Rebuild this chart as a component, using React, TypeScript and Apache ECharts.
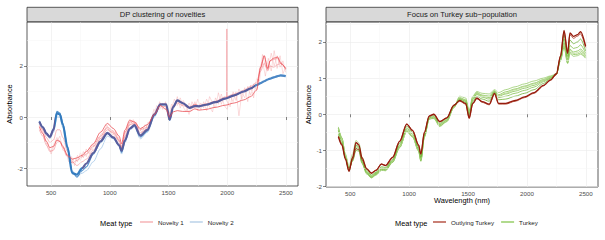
import React, { useEffect, useRef } from "react";
import * as echarts from "echarts";

// Wavelength grid (nm) for smooth spectra
const WAVELENGTH = [400, 430, 460, 490, 520, 550, 575, 600, 640, 680, 720, 765, 800, 860, 920, 980, 1030, 1080, 1100, 1130, 1170, 1210, 1260, 1320, 1380, 1430, 1480, 1510, 1540, 1575, 1620, 1680, 1725, 1760, 1820, 1900, 1980, 2060, 2140, 2200, 2250, 2285, 2315, 2345, 2365, 2395, 2430, 2455, 2498];

// Wavelength grid for noisy spectra
const NOISY_WAVELENGTH = [400, 425, 450, 475, 500, 525, 550, 575, 600, 625, 650, 675, 700, 725, 750, 775, 800, 825, 850, 875, 900, 925, 950, 975, 1000, 1025, 1050, 1075, 1100, 1125, 1150, 1175, 1200, 1225, 1250, 1275, 1300, 1325, 1350, 1375, 1400, 1425, 1450, 1475, 1500, 1525, 1550, 1575, 1600, 1625, 1650, 1675, 1700, 1725, 1750, 1775, 1800, 1825, 1850, 1875, 1900, 1925, 1950, 1975, 2000, 2025, 2050, 2075, 2100, 2125, 2150, 2175, 2200, 2225, 2250, 2275, 2300, 2325, 2350, 2375, 2400, 2425, 2450, 2475, 2498];

// ---- Left panel: DP clustering of novelties ----
const NOVELTY1_A = [-0.38, -0.65, -0.95, -1.2, -1.15, -0.9, -0.95, -1.15, -1.5, -1.65, -1.6, -1.5, -1.35, -1.05, -0.6, -0.25, -0.45, -0.75, -1.05, -0.5, -0.12, -0.2, -0.45, -0.3, 0.1, 0.45, 0.3, 0.0, 0.2, 0.25, 0.22, 0.22, 0.32, 0.27, 0.3, 0.38, 0.46, 0.55, 0.67, 0.8, 1.05, 1.95, 2.4, 1.9, 2.2, 2.3, 2.35, 2.1, 1.9];
const NOVELTY1_B = [-0.3, -0.5, -0.8, -1.0, -0.9, -0.5, -0.5, -0.8, -1.35, -1.75, -1.9, -1.75, -1.65, -1.3, -0.85, -0.5, -0.62, -0.95, -1.2, -0.75, -0.3, -0.25, -0.62, -0.45, 0.15, 0.5, 0.48, 0.0, 0.42, 0.62, 0.5, 0.4, 0.5, 0.45, 0.52, 0.62, 0.78, 0.9, 1.05, 1.2, 1.35, 1.8, 2.1, 1.8, 2.0, 1.95, 2.05, 2.1, 1.9];
const NOVELTY1_C = [-0.5, -0.75, -1.1, -1.35, -1.3, -1.0, -0.95, -1.2, -1.55, -1.8, -1.7, -1.55, -1.45, -1.15, -0.75, -0.4, -0.55, -0.9, -1.15, -0.6, -0.2, -0.18, -0.5, -0.4, 0.1, 0.45, 0.4, 0.0, 0.4, 0.55, 0.45, 0.35, 0.5, 0.42, 0.5, 0.6, 0.72, 0.85, 1.0, 1.1, 1.3, 1.9, 2.4, 1.85, 2.2, 2.25, 2.3, 2.15, 1.85];
const NOVELTY1_NOISY_A = [-0.35, -0.55, -0.9, -1.2, -1.35, -1.05, -0.8, -1.0, -1.1, -1.5, -1.45, -1.8, -1.6, -1.75, -1.4, -1.6, -1.25, -1.45, -1.1, -1.15, -0.8, -0.85, -0.5, -0.45, -0.5, -0.7, -0.6, -0.95, -1.2, -0.8, -0.35, -0.3, -0.1, -0.4, -0.45, -0.6, -0.3, -0.45, -0.1, 0.05, 0.45, 0.3, 0.55, 0.35, 0.1, 0.3, 0.7, 0.45, 0.75, 0.4, 0.2, 0.55, 0.3, 0.6, 0.25, 0.55, 0.35, 0.7, 0.4, 0.2, 0.75, 0.5, 0.9, 0.45, 0.3, 0.85, 0.6, 1.0, 0.05, 0.95, 0.75, 1.2, 0.85, 1.3, 1.05, 1.9, 2.2, 1.6, 2.3, 1.8, 2.6, 1.9, 2.4, 1.7, 1.95];
const NOVELTY1_NOISY_B = [-0.5, -0.45, -1.0, -1.05, -1.45, -1.15, -0.95, -0.75, -1.3, -1.35, -1.75, -1.55, -1.9, -1.5, -1.7, -1.35, -1.55, -1.2, -1.3, -0.95, -1.0, -0.65, -0.7, -0.3, -0.6, -0.55, -0.85, -0.8, -1.3, -0.6, -0.5, -0.15, -0.3, -0.2, -0.6, -0.4, -0.55, -0.2, -0.25, 0.3, 0.2, 0.6, 0.3, 0.6, -0.1, 0.5, 0.35, 0.8, 0.35, 0.65, 0.45, 0.1, 0.6, 0.35, 0.7, 0.3, 0.6, 0.25, 0.8, 0.55, 0.35, 0.95, 0.5, 0.8, 0.6, 0.4, 1.0, 0.65, 1.1, 0.7, 1.15, 0.6, 1.25, 0.75, 1.5, 1.4, 2.45, 2.0, 1.9, 2.5, 2.0, 2.4, 1.95, 2.2, 1.75];
const NOVELTY1_SPIKE_W = [1994, 1997, 2000];
const NOVELTY1_SPIKE_A = [0.72, 3.45, 0.72];

const NOVELTY2_A = [-0.18, -0.4, -0.65, -0.78, -0.5, 0.15, 0.1, -0.3, -1.2, -2.2, -2.25, -2.0, -1.82, -1.4, -0.95, -0.62, -0.8, -1.1, -1.32, -0.9, -0.45, -0.32, -0.72, -0.5, 0.1, 0.5, 0.5, -0.1, 0.4, 0.65, 0.55, 0.36, 0.43, 0.42, 0.48, 0.58, 0.72, 0.85, 1.0, 1.12, 1.25, 1.33, 1.4, 1.47, 1.5, 1.55, 1.6, 1.63, 1.6];
const NOVELTY2_B = [-0.15, -0.38, -0.62, -0.78, -0.45, 0.22, 0.15, -0.25, -1.15, -2.15, -2.35, -2.1, -1.95, -1.45, -1.0, -0.65, -0.82, -1.12, -1.38, -0.95, -0.45, -0.35, -0.78, -0.55, 0.05, 0.48, 0.48, -0.12, 0.38, 0.65, 0.55, 0.36, 0.44, 0.43, 0.49, 0.58, 0.72, 0.85, 1.0, 1.12, 1.26, 1.33, 1.4, 1.47, 1.5, 1.55, 1.6, 1.63, 1.62];
const NOVELTY2_C = [-0.25, -0.45, -0.7, -0.85, -0.6, 0.0, 0.0, -0.4, -1.3, -2.1, -2.3, -2.2, -2.1, -1.75, -1.25, -0.75, -0.85, -1.15, -1.45, -1.0, -0.5, -0.4, -0.85, -0.6, 0.0, 0.45, 0.45, -0.15, 0.35, 0.62, 0.52, 0.34, 0.42, 0.4, 0.46, 0.56, 0.7, 0.83, 0.98, 1.1, 1.24, 1.31, 1.38, 1.45, 1.48, 1.53, 1.58, 1.6, 1.58];

// ---- Right panel: Focus on Turkey sub-population ----
const OUTLYING_A = [-0.62, -0.85, -1.25, -1.58, -1.2, -0.78, -0.85, -1.2, -1.5, -1.63, -1.55, -1.38, -1.42, -1.2, -0.75, -0.27, -0.45, -0.85, -1.1, -0.5, -0.05, 0.0, -0.2, -0.1, 0.25, 0.38, 0.3, -0.1, 0.3, 0.45, 0.35, 0.28, 0.58, 0.3, 0.3, 0.38, 0.48, 0.6, 0.8, 0.95, 1.12, 1.6, 2.32, 1.68, 2.25, 2.15, 2.2, 2.28, 1.88];
const OUTLYING_B = [-0.6, -0.83, -1.22, -1.55, -1.25, -0.95, -0.98, -1.25, -1.52, -1.62, -1.54, -1.37, -1.41, -1.18, -0.74, -0.27, -0.44, -0.84, -1.08, -0.5, -0.05, 0.0, -0.21, -0.1, 0.24, 0.36, 0.28, -0.12, 0.28, 0.43, 0.33, 0.26, 0.55, 0.28, 0.28, 0.36, 0.46, 0.58, 0.78, 0.94, 1.1, 1.62, 2.28, 1.72, 2.2, 2.1, 2.16, 2.22, 1.85];
const TURKEY_A = [-0.55, -0.8, -1.22, -1.57, -1.22, -0.85, -0.9, -1.25, -1.55, -1.68, -1.6, -1.45, -1.47, -1.25, -0.8, -0.33, -0.5, -0.9, -1.18, -0.55, -0.08, -0.03, -0.25, -0.12, 0.25, 0.4, 0.33, -0.05, 0.35, 0.5, 0.42, 0.36, 0.6, 0.4, 0.42, 0.5, 0.58, 0.68, 0.85, 0.98, 1.12, 1.58, 2.2, 1.6, 2.05, 1.95, 2.0, 2.08, 1.75];
const TURKEY_B = [-0.45, -0.75, -1.2, -1.55, -1.25, -0.9, -0.95, -1.3, -1.6, -1.72, -1.63, -1.5, -1.5, -1.28, -0.85, -0.38, -0.55, -0.95, -1.22, -0.58, -0.1, -0.06, -0.28, -0.15, 0.22, 0.42, 0.36, 0.0, 0.4, 0.55, 0.47, 0.42, 0.62, 0.46, 0.5, 0.58, 0.66, 0.75, 0.9, 1.0, 1.1, 1.55, 2.08, 1.52, 1.9, 1.82, 1.85, 1.92, 1.68];
const TURKEY_C = [-0.4, -0.7, -1.18, -1.52, -1.28, -0.95, -1.0, -1.33, -1.62, -1.74, -1.65, -1.52, -1.53, -1.3, -0.88, -0.42, -0.6, -0.98, -1.26, -0.6, -0.12, -0.08, -0.3, -0.17, 0.2, 0.44, 0.38, 0.03, 0.43, 0.58, 0.5, 0.46, 0.63, 0.5, 0.56, 0.64, 0.72, 0.8, 0.93, 1.02, 1.1, 1.52, 1.98, 1.46, 1.8, 1.72, 1.75, 1.8, 1.62];
const TURKEY_D = [-0.35, -0.65, -1.15, -1.5, -1.3, -1.0, -1.02, -1.36, -1.65, -1.76, -1.68, -1.55, -1.56, -1.33, -0.92, -0.46, -0.63, -1.02, -1.3, -0.63, -0.14, -0.1, -0.32, -0.2, 0.18, 0.46, 0.4, 0.06, 0.46, 0.6, 0.53, 0.5, 0.65, 0.54, 0.62, 0.7, 0.78, 0.86, 0.96, 1.04, 1.1, 1.5, 1.9, 1.42, 1.72, 1.65, 1.66, 1.7, 1.57];
const TURKEY_E = [-0.4, -0.68, -1.1, -1.45, -1.1, -0.72, -0.8, -1.18, -1.5, -1.7, -1.62, -1.48, -1.5, -1.3, -0.9, -0.48, -0.62, -1.0, -1.25, -0.62, -0.13, -0.09, -0.3, -0.18, 0.2, 0.43, 0.38, 0.04, 0.44, 0.58, 0.52, 0.48, 0.64, 0.52, 0.58, 0.68, 0.76, 0.84, 0.95, 1.03, 1.1, 1.52, 1.95, 1.45, 1.78, 1.68, 1.7, 1.75, 1.6];
const TURKEY_F = [-0.38, -0.66, -1.12, -1.48, -1.2, -0.85, -0.92, -1.3, -1.6, -1.74, -1.66, -1.52, -1.54, -1.32, -0.92, -0.47, -0.62, -1.0, -1.28, -0.62, -0.12, -0.12, -0.34, -0.2, 0.2, 0.5, 0.45, 0.1, 0.5, 0.63, 0.58, 0.56, 0.68, 0.6, 0.68, 0.76, 0.84, 0.92, 1.0, 1.06, 1.12, 1.48, 1.85, 1.4, 1.68, 1.6, 1.62, 1.66, 1.55];

// Axis ticks
const X_TICKS = [500, 1000, 1500, 2000, 2500];
const X_MINOR = [750, 1250, 1750, 2250];
const LEFT_Y_TICKS = [-2, 0, 2];
const LEFT_Y_MINOR = [-1, 1, 3];
const RIGHT_Y_TICKS = [-2, -1, 0, 1, 2];
const RIGHT_Y_MINOR = [-1.5, -0.5, 0.5, 1.5, 2.5];

const FONT = "Liberation Sans, Arial, Helvetica, sans-serif";

const pairs = (xs: number[], ys: number[]) => xs.map((x, i) => [x, ys[i]]);

function line(name: string, xs: number[], ys: number[], g: number, color: string | null, width: number, opacity: number, z: number, smooth: number | boolean = 0.3) {
  const s: any = {
    type: "line",
    name,
    xAxisIndex: g,
    yAxisIndex: g,
    data: pairs(xs, ys),
    showSymbol: false,
    symbol: "none",
    smooth,
    smoothMonotone: "x",
    silent: true,
    z,
    lineStyle: { width, opacity },
  };
  if (color) {
    s.lineStyle.color = color;
    s.itemStyle = { color };
  }
  return s;
}

function gridLines(g: number, ys: number[]) {
  return {
    type: "line",
    name: "",
    xAxisIndex: g,
    yAxisIndex: g,
    data: [],
    silent: true,
    z: 1,
    markLine: {
      silent: true,
      symbol: ["none", "none"],
      label: { show: false },
      animation: false,
      lineStyle: { color: "#F4F4F4", width: 0.5, type: "solid" },
      data: [...X_MINOR.map((v) => ({ xAxis: v })), ...ys.map((v) => ({ yAxis: v }))],
    },
  };
}

const plainLabel = (v: number) => String(v);

function xAxis(g: number) {
  return {
    type: "value",
    gridIndex: g,
    min: 295,
    max: 2603,
    axisLine: { show: false },
    axisTick: { show: true, customValues: X_TICKS, length: 3, lineStyle: { color: "#333333", width: 0.6 } },
    axisLabel: { customValues: X_TICKS, formatter: plainLabel, fontSize: 6.2, color: "#4D4D4D", margin: 3, fontFamily: FONT },
    splitLine: { show: true, lineStyle: { color: "#EBEBEB", width: 0.6 } },
  };
}

function yAxis(g: number, min: number, max: number, ticks: number[]) {
  return {
    type: "value",
    gridIndex: g,
    min,
    max,
    axisLine: { show: false },
    axisTick: { show: true, customValues: ticks, length: 3, lineStyle: { color: "#333333", width: 0.6 } },
    axisLabel: { customValues: ticks, formatter: plainLabel, fontSize: 6.2, color: "#4D4D4D", margin: 4, fontFamily: FONT },
    splitLine: { show: true, lineStyle: { color: "#EBEBEB", width: 0.6 } },
  };
}

export default function App() {
  const ref = useRef<HTMLDivElement>(null);
  useEffect(() => {
    document.body.style.margin = "0";
    const chart = echarts.init(ref.current!, null, { renderer: "svg" });
    const W = WAVELENGTH;
    const NW = NOISY_WAVELENGTH;
    const series: any[] = [
      gridLines(0, LEFT_Y_MINOR),
      gridLines(1, RIGHT_Y_MINOR),
      // Left: Novelty 1 (red)
      line("Novelty 1", NW, NOVELTY1_NOISY_A, 0, "#F07A80", 0.6, 0.45, 2, false),
      line("Novelty 1", NW, NOVELTY1_NOISY_B, 0, "#F07A80", 0.6, 0.45, 2, false),
      line("Novelty 1", NOVELTY1_SPIKE_W, NOVELTY1_SPIKE_A, 0, "#EE6A70", 0.6, 0.7, 2, false),
      line("Novelty 1", W, NOVELTY1_B, 0, "#EE6A70", 0.8, 0.55, 3),
      line("Novelty 1", W, NOVELTY1_C, 0, "#EE6A70", 0.8, 0.55, 3),
      // Left: Novelty 2 (blue)
      line("Novelty 2", W, NOVELTY2_C, 0, "#9CC3E6", 0.8, 0.9, 4),
      line("Novelty 2", W, NOVELTY2_B, 0, "#3C82C4", 1.2, 0.85, 4),
      line("Novelty 2", W, NOVELTY2_A, 0, null, 2.2, 0.95, 5),
      line("Novelty 1", W, NOVELTY1_A, 0, "#E8474E", 0.9, 0.85, 6),
      // Right: Turkey (green)
      line("Turkey", W, TURKEY_F, 1, "#8CC65A", 1.0, 0.7, 3),
      line("Turkey", W, TURKEY_D, 1, "#7DBD45", 1.0, 0.75, 3),
      line("Turkey", W, TURKEY_C, 1, "#7DBD45", 1.0, 0.75, 3),
      line("Turkey", W, TURKEY_E, 1, "#B5D98F", 1.0, 0.9, 3),
      line("Turkey", W, TURKEY_B, 1, "#7DBD45", 1.0, 0.75, 3),
      line("Turkey", W, TURKEY_A, 1, "#6FB33A", 1.0, 0.8, 3),
      // Right: Outlying Turkey (dark red)
      line("Outlying Turkey", W, OUTLYING_B, 1, "#A8351F", 0.9, 0.9, 5),
      line("Outlying Turkey", W, OUTLYING_A, 1, "#961A0C", 1.3, 1, 6),
    ];
    const mainBlue = 9;

    chart.setOption({
      animation: false,
      backgroundColor: "#FFFFFF",
      textStyle: { fontFamily: FONT },
      grid: [
        { left: 27, top: 22, width: 271, height: 164, show: true, borderColor: "#333333", borderWidth: 0.8, backgroundColor: "transparent", containLabel: false },
        { left: 326, top: 22, width: 272, height: 165, show: true, borderColor: "#333333", borderWidth: 0.8, backgroundColor: "transparent", containLabel: false },
      ],
      xAxis: [xAxis(0), xAxis(1)],
      yAxis: [yAxis(0, -2.7, 3.72, LEFT_Y_TICKS), yAxis(1, -2.01, 2.55, RIGHT_Y_TICKS)],
      visualMap: [
        {
          type: "piecewise",
          show: false,
          dimension: 0,
          seriesIndex: mainBlue,
          pieces: [
            { lt: 530, color: "#56599A" },
            { gte: 530, lt: 760, color: "#2E78BD" },
            { gte: 760, lt: 2240, color: "#56599A" },
            { gte: 2240, color: "#4A86C5" },
          ],
        },
      ],
      legend: [
        {
          left: 140,
          top: 219,
          padding: 0,
          icon: "rect",
          itemWidth: 13,
          itemHeight: 1.2,
          itemGap: 6,
          selectedMode: false,
          textStyle: { fontSize: 6.2, color: "#1A1A1A", fontFamily: FONT },
          data: [
            { name: "Novelty 1", itemStyle: { color: "#F4A1A4" } },
            { name: "Novelty 2", itemStyle: { color: "#A9C6E3" } },
          ],
        },
        {
          left: 433,
          top: 219,
          padding: 0,
          icon: "rect",
          itemWidth: 13,
          itemHeight: 1.2,
          itemGap: 7,
          selectedMode: false,
          textStyle: { fontSize: 6.2, color: "#1A1A1A", fontFamily: FONT },
          data: [
            { name: "Outlying Turkey", itemStyle: { color: "#A52A1A" } },
            { name: "Turkey", itemStyle: { color: "#7DC242" } },
          ],
        },
      ],
      graphic: [
        { type: "rect", shape: { x: 27, y: 7.3, width: 271, height: 14.4 }, style: { fill: "#D9D9D9", stroke: "#333333", lineWidth: 0.8 }, z: 10 },
        { type: "text", x: 162.5, y: 14.6, style: { text: "DP clustering of novelties", fontSize: 7.6, fill: "#1A1A1A", fontFamily: FONT, align: "center", verticalAlign: "middle" }, z: 11 },
        { type: "rect", shape: { x: 326, y: 7.3, width: 272, height: 14.4 }, style: { fill: "#D9D9D9", stroke: "#333333", lineWidth: 0.8 }, z: 10 },
        { type: "text", x: 462, y: 14.6, style: { text: "Focus on Turkey sub\u2212population", fontSize: 7.6, fill: "#1A1A1A", fontFamily: FONT, align: "center", verticalAlign: "middle" }, z: 11 },
        { type: "text", x: 9.5, y: 104, rotation: Math.PI / 2, style: { text: "Absorbance", fontSize: 7.4, fill: "#000000", fontFamily: FONT, align: "center", verticalAlign: "middle" } },
        { type: "text", x: 308, y: 104.5, rotation: Math.PI / 2, style: { text: "Absorbance", fontSize: 7.4, fill: "#000000", fontFamily: FONT, align: "center", verticalAlign: "middle" } },
        { type: "text", x: 462, y: 200, style: { text: "Wavelength (nm)", fontSize: 7.4, fill: "#000000", fontFamily: FONT, align: "center", verticalAlign: "middle" } },
        { type: "text", x: 100, y: 223, style: { text: "Meat type", fontSize: 7.4, fill: "#000000", fontFamily: FONT, align: "left", verticalAlign: "middle" } },
        { type: "text", x: 395, y: 223, style: { text: "Meat type", fontSize: 7.4, fill: "#000000", fontFamily: FONT, align: "left", verticalAlign: "middle" } },
      ],
      series,
    });
    return () => chart.dispose();
  }, []);
  return <div ref={ref} style={{ width: 605, height: 240 }} />;
}
